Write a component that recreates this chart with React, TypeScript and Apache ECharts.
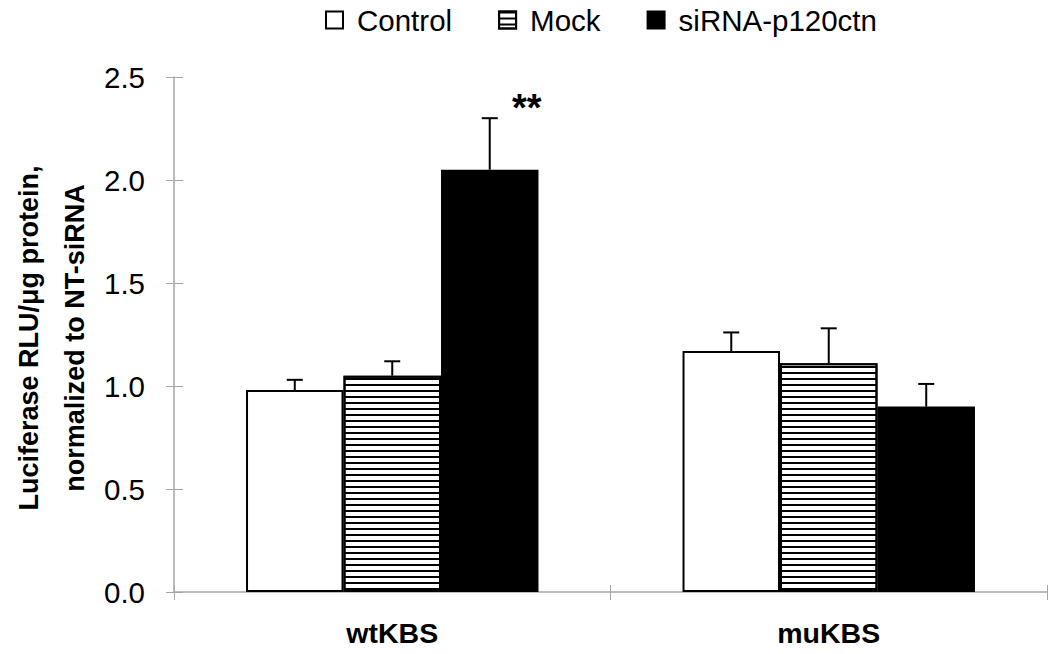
import React, { useEffect, useRef } from "react";
import * as echarts from "echarts";

const categories = ["wtKBS", "muKBS"];
const seriesNames = ["Control", "Mock", "siRNA-p120ctn"];
const controlValues = [0.98, 1.17];
const controlErrors = [0.05, 0.09];
const mockValues = [1.05, 1.11];
const mockErrors = [0.07, 0.17];
const sirnaValues = [2.05, 0.9];
const sirnaErrors = [0.25, 0.11];
const significance = ["**", ""];
const yTicks = [0, 0.5, 1.0, 1.5, 2.0, 2.5];

const FONT = "'Liberation Sans', Arial, sans-serif";

export default function App() {
  const ref = useRef<HTMLDivElement>(null);
  useEffect(() => {
    if (!ref.current) return;
    const chart = echarts.init(ref.current, undefined, { renderer: "svg" });
    const values = [controlValues, mockValues, sirnaValues];
    const errors = [controlErrors, mockErrors, sirnaErrors];
    const errData: any[] = [];
    values.forEach((vals, s) => {
      vals.forEach((v, c) => {
        errData.push([c, v, errors[s][c], s, s === 2 ? significance[c] : ""]);
      });
    });
    const gapRatio = 0.33;
    const barStyle = (color: string, decal?: any) => ({
      color,
      borderColor: "#000",
      borderWidth: 2,
      ...(decal ? { decal } : {}),
    });
    const mockDecal = {
      symbol: "rect",
      symbolSize: 1,
      dashArrayX: [1, 0],
      dashArrayY: [2, 3.2],
      rotation: 0,
      color: "#000",
    };
    const axisColor = "#a6a6a6";
    chart.setOption({
      animation: false,
      backgroundColor: "#fff",
      textStyle: { fontFamily: FONT },
      legend: {
        top: 0,
        left: 320,
        itemWidth: 17,
        itemHeight: 17,
        itemGap: 46,
        icon: "rect",
        data: seriesNames,
        textStyle: {
          fontSize: 29.5,
          color: "#000",
          fontFamily: FONT,
          padding: [0, 0, 0, 9],
        },
      },
      grid: { left: 174, right: 3, top: 77, bottom: 62, containLabel: false },
      xAxis: [
        {
          type: "category",
          data: categories,
          axisLine: { lineStyle: { color: axisColor, width: 1.5 } },
          axisTick: { show: true, length: 8, lineStyle: { color: axisColor } },
          axisLabel: {
            fontSize: 28.5,
            fontWeight: "bold",
            color: "#000",
            margin: 26,
            fontFamily: FONT,
          },
        },
        {
          type: "category",
          data: categories,
          position: "bottom",
          axisLine: { show: false },
          axisTick: { show: true, inside: true, length: 7, lineStyle: { color: axisColor } },
          axisLabel: { show: false },
        },
      ],
      yAxis: [
        {
          type: "value",
          min: 0,
          max: 2.5,
          interval: 0.5,
          splitLine: { show: false },
          axisLine: { show: true, lineStyle: { color: axisColor, width: 1.5 } },
          axisTick: { show: true, length: 8, lineStyle: { color: axisColor } },
          axisLabel: {
            fontSize: 29.5,
            color: "#000",
            margin: 29,
            fontFamily: FONT,
            formatter: (v: number) => (yTicks.includes(v) ? v.toFixed(1) : ""),
          },
        },
        {
          type: "value",
          min: 0,
          max: 2.5,
          interval: 0.5,
          position: "left",
          splitLine: { show: false },
          axisLine: { show: false },
          axisTick: { show: true, inside: true, length: 9, lineStyle: { color: axisColor } },
          axisLabel: { show: false },
        },
      ],
      series: [
        {
          name: seriesNames[0],
          type: "bar",
          data: controlValues,
          barGap: "0%",
          barCategoryGap: "33%",
          itemStyle: barStyle("#fff"),
        },
        {
          name: seriesNames[1],
          type: "bar",
          data: mockValues,
          barGap: "0%",
          barCategoryGap: "33%",
          itemStyle: barStyle("#fff", mockDecal),
        },
        {
          name: seriesNames[2],
          type: "bar",
          data: sirnaValues,
          barGap: "0%",
          barCategoryGap: "33%",
          itemStyle: barStyle("#000"),
        },
        {
          type: "custom",
          data: errData,
          z: 10,
          encode: { x: 0, y: 1 },
          renderItem: (params: any, api: any) => {
            const c = api.value(0);
            const v = api.value(1);
            const e = api.value(2);
            const s = api.value(3);
            const sig = errData[params.dataIndex][4];
            const band = api.size([1, 0])[0];
            const barW = (band * (1 - gapRatio)) / 3;
            const center = api.coord([c, 0])[0];
            const x = center + (s - 1) * barW;
            const yV = api.coord([c, v])[1];
            const yT = api.coord([c, v + e])[1];
            const cap = 8;
            const st = { stroke: "#000", lineWidth: 2 };
            const children: any[] = [
              { type: "line", shape: { x1: x, y1: yV, x2: x, y2: yT }, style: st },
              { type: "line", shape: { x1: x - cap, y1: yT, x2: x + cap, y2: yT }, style: st },
            ];
            if (sig) {
              children.push({
                type: "text",
                style: {
                  x: x + 37,
                  y: yT - 10,
                  text: sig,
                  fill: "#000",
                  font: `bold 38px ${FONT}`,
                  textAlign: "center",
                  textVerticalAlign: "middle",
                },
              });
            }
            return { type: "group", children };
          },
        },
      ],
      graphic: [
        {
          type: "text",
          x: 52,
          y: 338,
          rotation: Math.PI / 2,
          style: {
            text: "Luciferase RLU/μg protein,\nnormalized to NT-siRNA",
            font: `bold 27px ${FONT}`,
            fill: "#000",
            textAlign: "center",
            textVerticalAlign: "middle",
            lineHeight: 46,
          },
        },
      ],
    });
    return () => chart.dispose();
  }, []);
  return (
    <div
      ref={ref}
      style={{ position: "fixed", left: 0, top: 0, width: 1050, height: 654, background: "#fff" }}
    />
  );
}
